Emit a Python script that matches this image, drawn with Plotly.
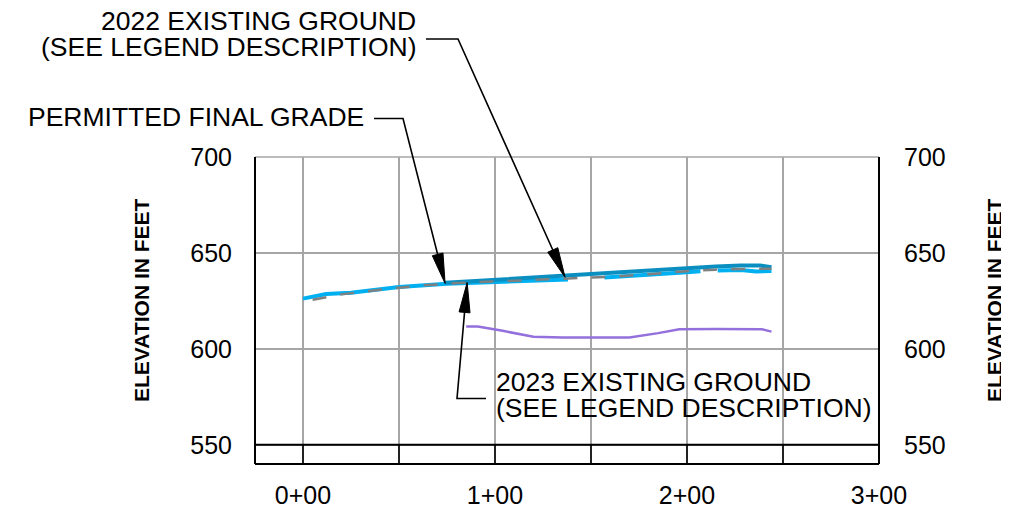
import numpy as np
import plotly.graph_objects as go

# ---------------- data ----------------
final_x = [74, 100, 125, 150, 175, 200, 215, 228, 238, 244]
final_y = [634.4, 636.0, 637.6, 639.1, 640.7, 642.0, 642.9, 643.4, 643.4, 642.6]

cyan_x = [0, 6, 12, 25, 40, 50, 75, 100, 125, 138, None, 157, 170, 185, 200, 207, None, 216, 228, 236, 244]
cyan_y = [626.2, 627.2, 628.6, 629.3, 631.0, 632.3, 634.0, 634.9, 635.7, 636.2, None, 637.2, 637.9, 638.9, 640.0, 640.5, None, 640.9, 641.1, 640.3, 640.6]

gray_x = [5, 20, 40, 60, 80, 100, 120, 140, 160, 180, 200, 215, 230, 244]
gray_y = [625.6, 628.4, 630.8, 632.9, 634.3, 635.2, 636.0, 636.8, 637.6, 638.9, 640.5, 641.3, 641.6, 641.8]

purple_x = [85, 91, 104, 120, 135, 155, 170, 185, 196, 215, 239, 244]
purple_y = [611.7, 611.7, 609.4, 606.3, 605.9, 605.8, 605.9, 608.2, 610.2, 610.4, 610.2, 609.0]

tick_vals = [0, 50, 100, 150, 200, 250, 300]
tick_text = ["0+00", "", "1+00", "", "2+00", "", "3+00"]
elev_ticks = [550, 600, 650, 700]

# arrow tips (data coords)
tip_pfg = (74, 634.1)
tip_2022 = (136.5, 637.3)
tip_2023 = (85.5, 634.6)

# ---------------- layout geometry (page pixels; page body has 8px margin) ----------------
OFF = 8
FW, FH = 1009 - OFF, 517 - OFF
L_PAGE, T_PAGE = 255, 157
W, H = 624, 307
L, T = L_PAGE - OFF, T_PAGE - OFF
R, B = FW - L - W, FH - T - H
XR = [-25, 300]
YR = [540, 700]
FONT = "Liberation Sans, Arial, sans-serif"


def xp(px):
    return (px - L_PAGE) / W


def yp(py):
    return 1 - (py - T_PAGE) / H


def data_px(x, y):
    return (L_PAGE + (x - XR[0]) / (XR[1] - XR[0]) * W,
            T_PAGE + (YR[1] - y) / (YR[1] - YR[0]) * H)


fig = go.Figure()
fig.add_trace(go.Scatter(x=cyan_x, y=cyan_y, mode="lines",
                         line=dict(color="#00b0f0", width=4), connectgaps=False,
                         hoverinfo="skip", showlegend=False))
fig.add_trace(go.Scatter(x=final_x, y=final_y, mode="lines",
                         line=dict(color="#0a8fc0", width=4),
                         hoverinfo="skip", showlegend=False))
fig.add_trace(go.Scatter(x=gray_x, y=gray_y, mode="lines",
                         line=dict(color="#808080", width=2.5, dash="14px,14px"),
                         hoverinfo="skip", showlegend=False))
fig.add_trace(go.Scatter(x=purple_x, y=purple_y, mode="lines", yaxis="y2",
                         line=dict(color="#9370db", width=2.5),
                         hoverinfo="skip", showlegend=False))

shapes = []
blk = dict(color="black", width=2)
shapes.append(dict(type="line", xref="paper", yref="paper", x0=0, x1=0, y0=0, y1=1, line=blk, layer="above"))
shapes.append(dict(type="line", xref="paper", yref="paper", x0=1, x1=1, y0=0, y1=1, line=blk, layer="above"))
shapes.append(dict(type="line", xref="paper", yref="paper", x0=0, x1=1, y0=0, y1=0, line=blk, layer="above"))
shapes.append(dict(type="line", xref="paper", yref="paper", x0=0, x1=1, y0=1, y1=1,
                   line=dict(color="#a6a6a6", width=1.5), layer="below"))
shapes.append(dict(type="line", xref="paper", yref="y", x0=0, x1=1, y0=550, y1=550, line=blk, layer="above"))
for v in tick_vals:
    shapes.append(dict(type="line", xref="x", yref="y", x0=v, x1=v, y0=YR[0], y1=550,
                       line=dict(color="black", width=1.6), layer="above"))


def leader(points_px, tip):
    tx, ty = data_px(*tip)
    pts = list(points_px) + [(tx, ty)]
    ex, ey = pts[-2]
    d = np.array([tx - ex, ty - ey])
    u = d / np.linalg.norm(d)
    n = np.array([-u[1], u[0]])
    hl, hw = 30, 5.5
    base = np.array([tx, ty]) - hl * u
    c1 = base + hw * n
    c2 = base - hw * n
    line_pts = pts[:-1] + [tuple(base + 2 * u)]
    path = "M " + " L ".join(f"{xp(a):.5f},{yp(b):.5f}" for a, b in line_pts)
    shapes.append(dict(type="path", xref="paper", yref="paper", path=path,
                       line=dict(color="black", width=1.6), layer="above"))
    tri = (f"M {xp(tx):.5f},{yp(ty):.5f} L {xp(c1[0]):.5f},{yp(c1[1]):.5f} "
           f"L {xp(c2[0]):.5f},{yp(c2[1]):.5f} Z")
    shapes.append(dict(type="path", xref="paper", yref="paper", path=tri,
                       fillcolor="black", line=dict(color="black", width=1), layer="above"))


leader([(374, 118.5), (403, 118.5)], tip_pfg)
leader([(426, 39), (458, 39)], tip_2022)
leader([(486, 398.5), (457, 398.5)], tip_2023)

ann = []


def label(text, px, py, anchor, size=26.5):
    ann.append(dict(text=text, xref="paper", yref="paper", x=xp(px), y=yp(py),
                    xanchor=anchor, yanchor="middle", showarrow=False,
                    font=dict(family=FONT, size=size, color="black")))


label("2022 EXISTING GROUND", 418, 21, "right")
label("(SEE LEGEND DESCRIPTION)", 418, 47, "right")
label("PERMITTED FINAL GRADE", 366, 117.5, "right")
label("2023 EXISTING GROUND", 494, 382, "left")
label("(SEE LEGEND DESCRIPTION)", 494, 408, "left")

for cx in (141, 994):
    ann.append(dict(text="<b>ELEVATION IN FEET</b>", xref="paper", yref="paper",
                    x=xp(cx), y=yp(300), xanchor="center", yanchor="middle",
                    textangle=-90, showarrow=False,
                    font=dict(family=FONT, size=21, color="black")))

fig.update_layout(
    width=FW, height=FH,
    margin=dict(l=L, r=R, t=T, b=B, pad=0, autoexpand=False),
    paper_bgcolor="white", plot_bgcolor="white",
    showlegend=False,
    xaxis=dict(range=XR, tickmode="array", tickvals=tick_vals, ticktext=tick_text,
               showgrid=True, gridcolor="#a6a6a6", gridwidth=1.5, zeroline=False,
               showline=False, ticks="", ticklabelstandoff=14, automargin=False,
               tickfont=dict(family=FONT, size=25, color="black"), fixedrange=True),
    yaxis=dict(range=YR, tickmode="array", tickvals=elev_ticks,
               showgrid=True, gridcolor="#a6a6a6", gridwidth=1.5, zeroline=False,
               showline=False, ticks="", ticklabelstandoff=22, automargin=False,
               tickfont=dict(family=FONT, size=25, color="black"), fixedrange=True),
    yaxis2=dict(range=YR, tickmode="array", tickvals=elev_ticks, overlaying="y", side="right",
                showgrid=False, zeroline=False, showline=False, ticks="", ticklabelstandoff=24,
                automargin=False,
                tickfont=dict(family=FONT, size=25, color="black"), fixedrange=True),
    shapes=shapes,
    annotations=ann,
)

fig.write_html("out.html")
